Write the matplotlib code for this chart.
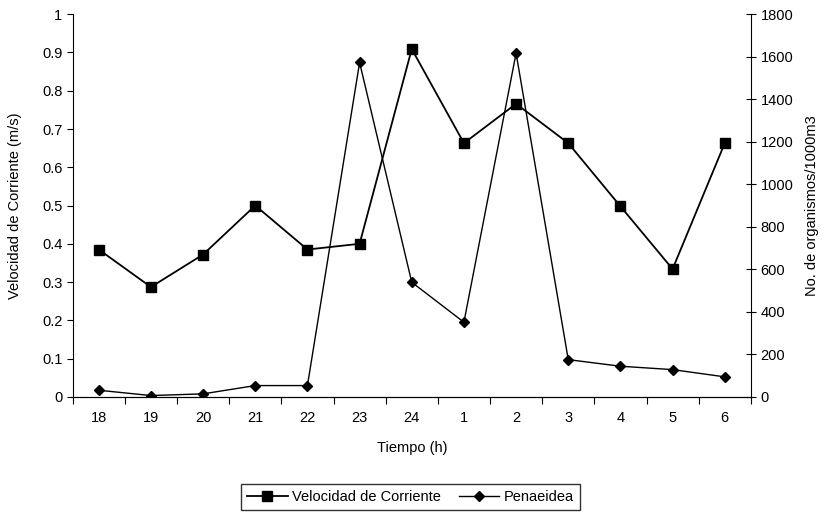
import matplotlib.pyplot as plt

plt.rcParams['font.family'] = ['Liberation Sans', 'DejaVu Sans']

horas = ["18", "19", "20", "21", "22", "23", "24", "1", "2", "3", "4", "5", "6"]
velocidad = [0.385, 0.287, 0.372, 0.50, 0.385, 0.40, 0.909, 0.663, 0.766, 0.663, 0.498, 0.334, 0.663]
penaeidea = [31, 6, 14, 53, 53, 1573, 539, 351, 1617, 175, 144, 128, 94]

fig = plt.figure(figsize=(8.26, 5.27), dpi=100)
ax = fig.add_axes([0.088, 0.247, 0.821, 0.726])
ax2 = ax.twinx()

x = [i + 0.5 for i in range(len(horas))]
l1, = ax.plot(x, velocidad, color='black', marker='s', markersize=7, linewidth=1.3,
              label='Velocidad de Corriente')
l2, = ax2.plot(x, penaeidea, color='black', marker='D', markersize=5, linewidth=1.0,
               label='Penaeidea')

ax.set_xlim(0, len(horas))
ax.set_ylim(0, 1)
ax2.set_ylim(0, 1800)
ax.set_yticks([i / 10 for i in range(11)])
ax.set_yticklabels(["0", "0.1", "0.2", "0.3", "0.4", "0.5", "0.6", "0.7", "0.8", "0.9", "1"])
ax2.set_yticks(range(0, 1801, 200))

ax.set_xticks(range(len(horas) + 1))
ax.set_xticklabels([])
ax.set_xticks(x, minor=True)
ax.set_xticklabels(horas, minor=True)
ax.tick_params(axis='x', which='minor', length=0, pad=10, labelsize=10.5)
ax.tick_params(axis='x', which='major', direction='out', length=5)
ax.tick_params(axis='y', direction='out', length=4, labelsize=10.5)
ax2.tick_params(axis='y', direction='inout', length=7, labelsize=10.5)

for a in (ax, ax2):
    a.spines['top'].set_visible(False)
ax2.spines['left'].set_visible(False)
ax.spines['right'].set_visible(False)

ax.set_xlabel("Tiempo (h)", fontsize=10.5, labelpad=12)
ax.set_ylabel("Velocidad de Corriente (m/s)", fontsize=10.5, labelpad=14)
ax2.set_ylabel("No. de organismos/1000m3", fontsize=10.5, labelpad=8)

fig.legend(handles=[l1, l2], loc='center', bbox_to_anchor=(0.497, 0.057), ncol=2,
           frameon=True, fancybox=False, edgecolor='black', fontsize=10.5,
           handlelength=2.8, handletextpad=0.3, columnspacing=1.2, borderpad=0.4)

fig.savefig("out.png", dpi=100)
